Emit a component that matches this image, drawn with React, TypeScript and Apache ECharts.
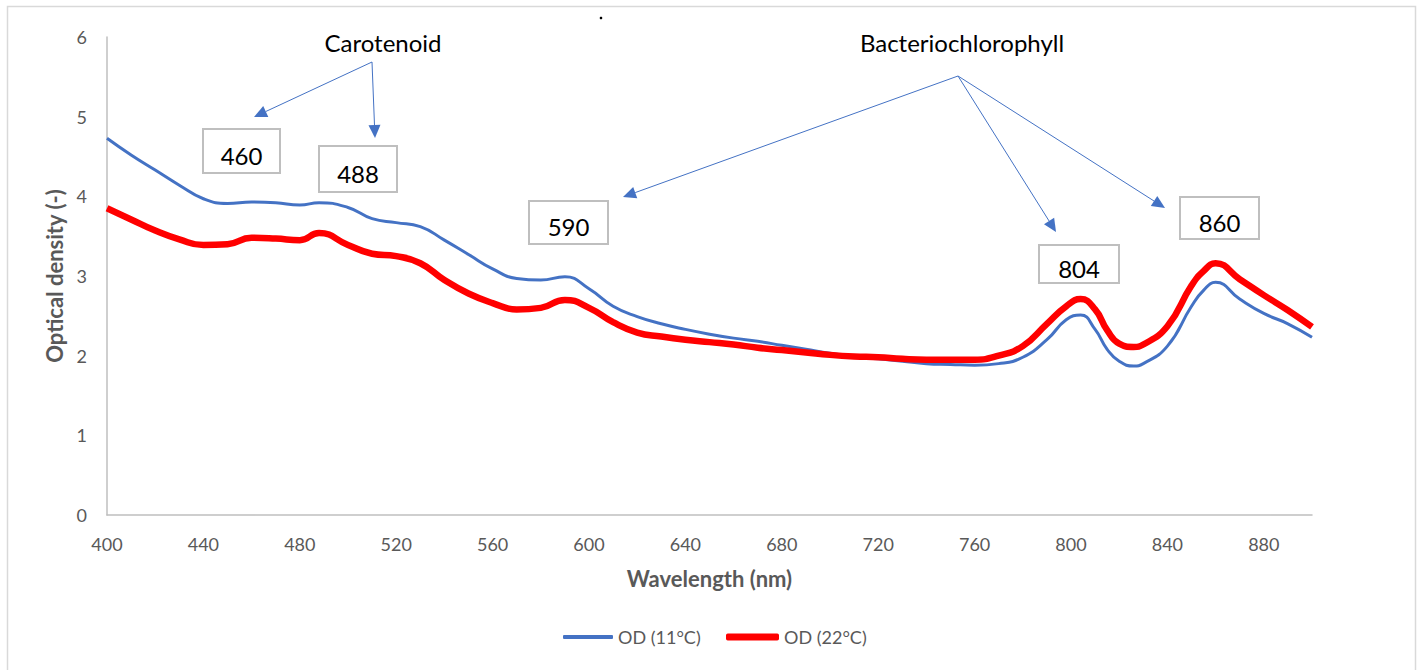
import React, { useEffect, useRef } from "react";
import * as echarts from "echarts";

// Absorption spectra of the culture grown at two temperatures
const wavelengths = [
  400, 410, 420, 430, 440, 450, 460, 470, 480, 488, 500, 510, 520, 530, 540, 550,
  560, 570, 580, 590, 600, 610, 620, 630, 640, 650, 660, 670, 680, 690, 700, 710,
  720, 730, 740, 750, 760, 770, 780, 790, 798, 804, 810, 815, 820, 826, 830, 840,
  850, 855, 860, 870, 880, 890, 900,
];

const od11 = [
  4.73, 4.52, 4.33, 4.14, 3.97, 3.91, 3.93, 3.92, 3.89, 3.92, 3.86, 3.72, 3.67, 3.62, 3.45, 3.27,
  3.09, 2.97, 2.95, 2.99, 2.84, 2.62, 2.49, 2.4, 2.33, 2.27, 2.22, 2.18, 2.13, 2.08, 2.03, 1.99,
  1.96, 1.93, 1.9, 1.89, 1.88, 1.9, 1.98, 2.2, 2.45, 2.51, 2.33, 2.08, 1.93, 1.87, 1.9, 2.12,
  2.62, 2.82, 2.92, 2.71, 2.53, 2.4, 2.23,
];

const od22 = [
  3.85, 3.71, 3.57, 3.46, 3.39, 3.4, 3.48, 3.47, 3.45, 3.54, 3.39, 3.28, 3.25, 3.16, 2.95, 2.78,
  2.66, 2.58, 2.6, 2.7, 2.6, 2.42, 2.29, 2.24, 2.2, 2.17, 2.14, 2.1, 2.07, 2.04, 2.01, 1.99,
  1.98, 1.96, 1.95, 1.95, 1.95, 2.0, 2.12, 2.4, 2.62, 2.71, 2.58, 2.32, 2.15, 2.11, 2.14, 2.37,
  2.88, 3.06, 3.16, 2.96, 2.76, 2.57, 2.36,
];

const seriesNames = ["OD (11°C)", "OD (22°C)"];
const peakLabels = ["460", "488", "590", "804", "860"];
const pigmentLabels = ["Carotenoid", "Bacteriochlorophyll"];

const FONT = "Lato, 'Open Sans', sans-serif";
const BLUE = "#4472C4";
const RED = "#FF0000";
const GREY_TEXT = "#595959";
const AXIS_GREY = "#bfbfbf";

function arrow(x1: number, y1: number, x2: number, y2: number) {
  const dx = x2 - x1;
  const dy = y2 - y1;
  const len = Math.hypot(dx, dy);
  const ux = dx / len;
  const uy = dy / len;
  const head = 13;
  const half = 6;
  const bx = x2 - ux * head;
  const by = y2 - uy * head;
  return [
    {
      type: "line",
      shape: { x1, y1, x2: bx, y2: by },
      style: { stroke: BLUE, lineWidth: 1 },
      silent: true,
    },
    {
      type: "polygon",
      shape: {
        points: [
          [x2, y2],
          [bx - uy * half, by + ux * half],
          [bx + uy * half, by - ux * half],
        ],
      },
      style: { fill: BLUE },
      silent: true,
    },
  ];
}

function box(label: string, x: number, y: number, w: number, h: number) {
  return [
    {
      type: "rect",
      shape: { x, y, width: w, height: h },
      style: { fill: "#fff", stroke: AXIS_GREY, lineWidth: 2 },
      silent: true,
    },
    {
      type: "text",
      x: x + w / 2,
      y: y + h / 2 + 4,
      style: {
        text: label,
        fill: "#000",
        fontSize: 24,
        fontFamily: FONT,
        align: "center",
        verticalAlign: "middle",
      },
      silent: true,
    },
  ];
}

export default function App() {
  const ref = useRef<HTMLDivElement>(null);

  useEffect(() => {
    document.body.style.margin = "0";
    if (!ref.current) return;
    const chart = echarts.init(ref.current, undefined, { renderer: "svg" });

    const data11 = wavelengths.map((w, i) => [w, od11[i]]);
    const data22 = wavelengths.map((w, i) => [w, od22[i]]);

    const graphics: any[] = [
      {
        type: "rect",
        shape: { x: 7.5, y: 6.5, width: 1408, height: 700 },
        style: { fill: "none", stroke: "#d9d9d9", lineWidth: 1.5 },
        silent: true,
      },
      { type: "circle", shape: { cx: 601, cy: 18, r: 1.3 }, style: { fill: "#000" }, silent: true },
      {
        type: "text",
        x: 383,
        y: 42,
        style: {
          text: pigmentLabels[0],
          fill: "#000",
          fontSize: 24,
          fontFamily: FONT,
          align: "center",
          verticalAlign: "middle",
        },
        silent: true,
      },
      {
        type: "text",
        x: 962,
        y: 42,
        style: {
          text: pigmentLabels[1],
          fill: "#000",
          fontSize: 24,
          fontFamily: FONT,
          align: "center",
          verticalAlign: "middle",
        },
        silent: true,
      },
      ...arrow(372, 62, 254, 117),
      ...arrow(372, 62, 375, 138),
      ...arrow(958, 76, 623, 197),
      ...arrow(958, 76, 1056, 232),
      ...arrow(958, 76, 1165, 208),
      ...box(peakLabels[0], 203, 129, 77, 44),
      ...box(peakLabels[1], 319, 146, 78, 46),
      ...box(peakLabels[2], 529, 201, 79, 43),
      ...box(peakLabels[3], 1039, 245, 80, 38),
      ...box(peakLabels[4], 1180, 197, 79, 42),
    ];

    chart.setOption({
      animation: false,
      backgroundColor: "#fff",
      textStyle: { fontFamily: FONT },
      grid: { left: 107, right: 107, top: 37, bottom: 155 },
      legend: [
        {
          data: [seriesNames[0]],
          left: 563,
          top: 628,
          padding: 0,
          icon: "roundRect",
          itemWidth: 50,
          itemHeight: 4,
          textStyle: { color: GREY_TEXT, fontSize: 18, fontFamily: FONT },
        },
        {
          data: [seriesNames[1]],
          left: 726,
          top: 628,
          padding: 0,
          icon: "roundRect",
          itemWidth: 53,
          itemHeight: 7,
          textStyle: { color: GREY_TEXT, fontSize: 18, fontFamily: FONT },
        },
      ],
      xAxis: {
        type: "value",
        min: 400,
        max: 900,
        interval: 40,
        name: "Wavelength (nm)",
        nameLocation: "middle",
        nameGap: 52,
        nameTextStyle: { color: GREY_TEXT, fontSize: 22, fontWeight: "bold", fontFamily: FONT },
        axisLine: { show: true, lineStyle: { color: AXIS_GREY, width: 1.5 } },
        axisTick: { show: false },
        splitLine: { show: false },
        axisLabel: { color: GREY_TEXT, fontSize: 18, margin: 20, showMaxLabel: false },
      },
      yAxis: {
        type: "value",
        min: 0,
        max: 6,
        interval: 1,
        name: "Optical density (-)",
        nameLocation: "middle",
        nameGap: 40,
        nameTextStyle: { color: GREY_TEXT, fontSize: 22, fontWeight: "bold", fontFamily: FONT },
        axisLine: { show: true, lineStyle: { color: AXIS_GREY, width: 1.5 } },
        axisTick: { show: false },
        splitLine: { show: false },
        axisLabel: { color: GREY_TEXT, fontSize: 18, margin: 20 },
      },
      series: [
        {
          name: seriesNames[0],
          type: "line",
          data: data11,
          smooth: 0.5,
          symbol: "none",
          color: BLUE,
          lineStyle: { color: BLUE, width: 3 },
          z: 3,
        },
        {
          name: seriesNames[1],
          type: "line",
          data: data22,
          smooth: 0.5,
          symbol: "none",
          color: RED,
          lineStyle: { color: RED, width: 6.5 },
          z: 4,
        },
      ],
      graphic: graphics,
    });

    return () => chart.dispose();
  }, []);

  return <div ref={ref} style={{ width: 1419, height: 670 }} />;
}
